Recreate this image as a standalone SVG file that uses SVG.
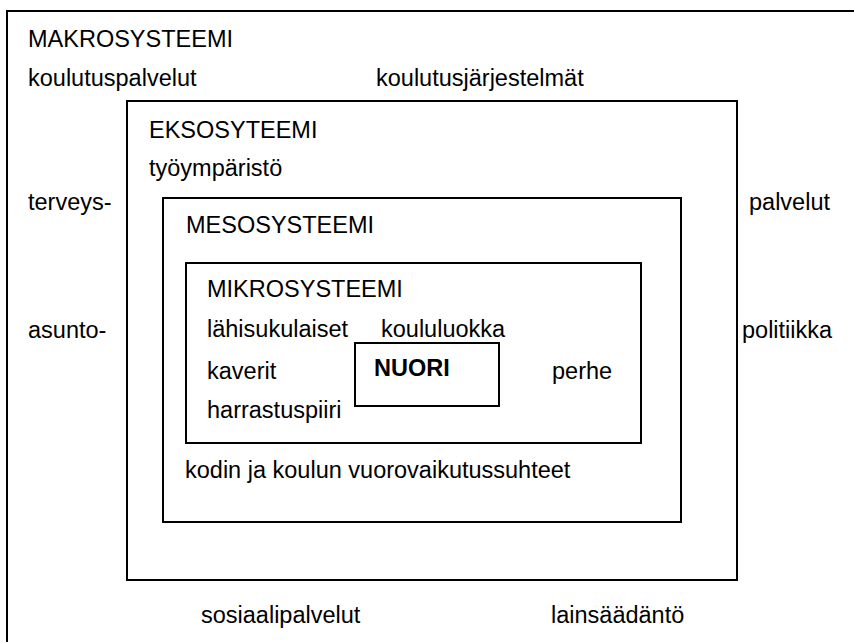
<svg xmlns="http://www.w3.org/2000/svg" width="854" height="642" viewBox="0 0 854 642">
<style>
.box{fill:none;stroke:#000;stroke-width:2}
text{font-family:"Liberation Sans",Arial,sans-serif;font-size:23.5px;fill:#000}
.b{font-weight:bold}
</style>
<rect width="854" height="642" fill="#fff"/>
<g id="makro">
<rect class="box" x="7" y="11" width="870" height="660"/>
<text x="28" y="47">MAKROSYSTEEMI</text>
<text x="28" y="86">koulutuspalvelut</text>
<text x="376" y="86">koulutusjärjestelmät</text>
<text x="28" y="210">terveys-</text>
<text x="749" y="210">palvelut</text>
<text x="28" y="338">asunto-</text>
<text x="742" y="338">politiikka</text>
<text x="201" y="623">sosiaalipalvelut</text>
<text x="551" y="623">lainsäädäntö</text>
</g>
<g id="ekso">
<rect class="box" x="127" y="101" width="610" height="479"/>
<text x="149" y="138">EKSOSYTEEMI</text>
<text x="149" y="176">työympäristö</text>
</g>
<g id="meso">
<rect class="box" x="163" y="198" width="518" height="324"/>
<text x="186" y="233">MESOSYSTEEMI</text>
<text x="185" y="478">kodin ja koulun vuorovaikutussuhteet</text>
</g>
<g id="mikro">
<rect class="box" x="186" y="263" width="455" height="180"/>
<text x="207" y="297">MIKROSYSTEEMI</text>
<text x="207" y="337">lähisukulaiset</text>
<text x="381" y="337">koululuokka</text>
<text x="207" y="379">kaverit</text>
<text x="552" y="379">perhe</text>
<text x="207" y="418">harrastuspiiri</text>
</g>
<g id="nuori">
<rect class="box" x="355" y="343" width="144" height="63"/>
<text class="b" x="374" y="376">NUORI</text>
</g>
<g id="connectors"/>
</svg>
